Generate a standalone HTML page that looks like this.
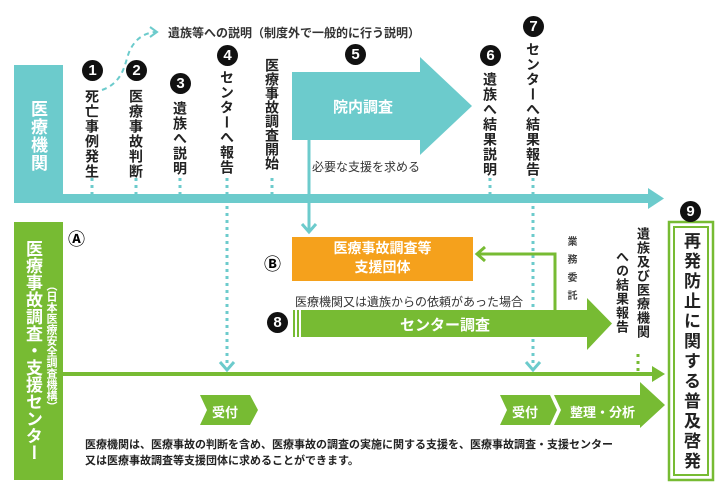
<!DOCTYPE html>
<html><head><meta charset="utf-8"><style>
body{margin:0;width:725px;height:500px;background:#fff;position:relative;overflow:hidden;font-family:"Liberation Sans","Noto Sans CJK JP",sans-serif;}
.a{position:absolute;}
.v{position:absolute;writing-mode:vertical-rl;font-weight:bold;color:#222;font-size:14px;line-height:1;letter-spacing:1px;}
.n{position:absolute;width:21px;height:21px;border-radius:50%;background:#111;color:#fff;font-weight:bold;font-size:15px;line-height:21px;text-align:center;}
.w{color:#fff;font-weight:bold;}
</style></head><body>
<svg class="a" style="left:0;top:0" width="725" height="500">
<rect x="14" y="65" width="49" height="138" fill="#6ccbcc"/>
<rect x="14" y="194" width="636" height="9" fill="#6ccbcc"/>
<polygon points="648,188 664,198.5 648,209" fill="#6ccbcc"/>
<path d="M102,90 C125,82 125,60 130,50 C136,38 145,33 155,32" stroke="#6ccbcc" stroke-width="2" stroke-dasharray="5,4" fill="none"/>
<polyline points="150,27 157,32 150,37" stroke="#6ccbcc" stroke-width="2" fill="none"/>
<g stroke="#6ccbcc" stroke-width="3" stroke-dasharray="3,4">
<line x1="92" y1="178" x2="92" y2="194"/><line x1="136" y1="178" x2="136" y2="194"/><line x1="180" y1="178" x2="180" y2="194"/>
<line x1="272" y1="178" x2="272" y2="194"/><line x1="490" y1="178" x2="490" y2="194"/>
<line x1="227" y1="178" x2="227" y2="366"/><line x1="533" y1="178" x2="533" y2="366"/>
</g>
<polyline points="220,362 227,370 234,362" stroke="#6ccbcc" stroke-width="3" fill="none"/>
<polyline points="526,362 533,370 540,362" stroke="#6ccbcc" stroke-width="3" fill="none"/>
<polygon points="292,72 420,72 420,57 472,106 420,155 420,140 292,140" fill="#6ccbcc"/>
<line x1="309" y1="140" x2="309" y2="232" stroke="#6ccbcc" stroke-width="3"/>
<polyline points="302,224 309,232 316,224" stroke="#6ccbcc" stroke-width="3" fill="none"/>
<rect x="292" y="237" width="181" height="44" fill="#f5a11c"/>
<rect x="14" y="222" width="49" height="258" fill="#77bb33"/>
<rect x="63" y="372" width="592" height="4" fill="#77bb33"/>
<polygon points="652,366 665,374 652,382" fill="#77bb33"/>
<rect x="293" y="310" width="2" height="27" fill="#77bb33"/>
<rect x="297" y="310" width="2" height="27" fill="#77bb33"/>
<polygon points="301,310 587,310 587,298 612,323.5 587,350 587,337 301,337" fill="#77bb33"/>
<polyline points="555,310 555,254 477,254" stroke="#77bb33" stroke-width="3" fill="none"/>
<polyline points="485,247 477,254 485,261" stroke="#77bb33" stroke-width="3" fill="none"/>
<line x1="638" y1="354" x2="638" y2="372" stroke="#77bb33" stroke-width="3" stroke-dasharray="3,4"/>
<polygon points="200,395 250,395 258,410 250,425 200,425 207,410" fill="#77bb33"/>
<polygon points="500,395 550,395 557,410 550,425 500,425 507,410" fill="#77bb33"/>
<polygon points="554,395 640,395 640,382 665,405 640,428 640,425 554,425 561,410" fill="#77bb33"/>
<rect x="669" y="222" width="44" height="258" fill="none" stroke="#77bb33" stroke-width="2.5"/>
<rect x="674" y="227" width="34" height="248" fill="none" stroke="#77bb33" stroke-width="2"/>
</svg>
<div class="a" style="left:168px;top:24px;font-size:12px;font-weight:bold;color:#333">遺族等への説明（制度外で一般的に行う説明）</div>
<div class="v w" style="left:29px;top:100px;font-size:17px;color:#fff">医療機関</div>
<div class="n" style="left:82px;top:60px">1</div>
<div class="n" style="left:126px;top:60px">2</div>
<div class="n" style="left:170px;top:73px">3</div>
<div class="n" style="left:217px;top:45px">4</div>
<div class="n" style="left:345px;top:44px">5</div>
<div class="n" style="left:480px;top:45px">6</div>
<div class="n" style="left:523px;top:16px">7</div>
<div class="n" style="left:680px;top:201px">9</div>
<div class="n" style="left:267px;top:312px">8</div>
<div class="v" style="left:85px;top:89px">死亡事例発生</div>
<div class="v" style="left:129px;top:89px">医療事故判断</div>
<div class="v" style="left:173px;top:101px">遺族へ説明</div>
<div class="v" style="left:220px;top:70px">センターへ報告</div>
<div class="v" style="left:265px;top:58px;letter-spacing:0">医療事故調査開始</div>
<div class="v" style="left:483px;top:72px">遺族へ結果説明</div>
<div class="v" style="left:526px;top:42px">センターへ結果報告</div>
<div class="a w" style="left:333px;top:96px;font-size:15px">院内調査</div>
<div class="a" style="left:312px;top:158px;font-size:12px;color:#333">必要な支援を求める</div>
<div class="a w" style="left:292px;top:239px;width:181px;text-align:center;font-size:14px;line-height:19px">医療事故調査等<br>支援団体</div>
<div class="a" style="left:264px;top:250px;font-size:17px;font-weight:bold">Ⓑ</div>
<div class="a" style="left:68px;top:225px;font-size:17px;font-weight:bold">Ⓐ</div>
<div class="a" style="left:295px;top:293px;font-size:12px;color:#333">医療機関又は遺族からの依頼があった場合</div>
<div class="a w" style="left:400px;top:314px;font-size:15px">センター調査</div>
<div class="v" style="left:565px;top:236px;font-size:10px;letter-spacing:8px;color:#444">業務委託</div>
<div class="v" style="left:636px;top:227px;font-size:13px;letter-spacing:1px">遺族及び医療機関</div>
<div class="v" style="left:615px;top:250px;font-size:13px;letter-spacing:1px">への結果報告</div>
<div class="v" style="left:24px;top:240px;font-size:17px;color:#fff;letter-spacing:0">医療事故調査・支援センター</div>
<div class="v" style="left:45px;top:280px;font-size:11px;color:#fff;letter-spacing:0">（日本医療安全調査機構）</div>
<div class="a w" style="left:212px;top:402px;font-size:13px">受付</div>
<div class="a w" style="left:512px;top:402px;font-size:13px">受付</div>
<div class="a w" style="left:570px;top:402px;font-size:13px">整理・分析</div>
<div class="a" style="left:85px;top:437px;font-size:11px;line-height:16px;font-weight:bold;color:#222">医療機関は、医療事故の判断を含め、医療事故の調査の実施に関する支援を、医療事故調査・支援センター<br>又は医療事故調査等支援団体に求めることができます。</div>
<div class="v" style="left:682px;top:232px;font-size:17px;letter-spacing:3px">再発防止に関する普及啓発</div>
</body></html>
